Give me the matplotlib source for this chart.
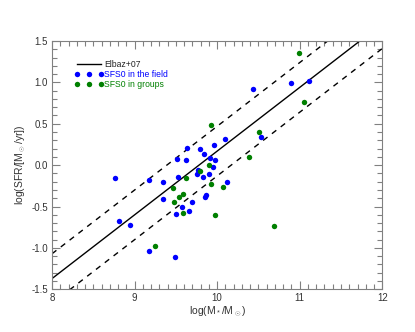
import numpy as np
import matplotlib as mpl
import matplotlib.pyplot as plt
from matplotlib.ticker import MultipleLocator, FormatStrFormatter

mpl.rcParams["font.family"] = ["Liberation Sans", "DejaVu Sans"]
mpl.rcParams["axes.unicode_minus"] = False
mpl.rcParams["mathtext.fontset"] = "custom"
mpl.rcParams["mathtext.rm"] = "Liberation Sans"

# field galaxies (blue)
field_mass = [8.76, 8.81, 8.94, 9.17, 9.17, 9.34, 9.35, 9.49, 9.50, 9.51,
              9.52, 9.58, 9.62, 9.63, 9.66, 9.70, 9.75, 9.77, 9.79, 9.83,
              9.84, 9.855, 9.87, 9.90, 9.91, 9.955, 9.96, 9.98, 10.10, 10.125,
              10.44, 10.525, 10.90, 11.115]
field_sfr = [-0.15, -0.67, -0.72, -0.18, -1.04, -0.20, -0.41, -1.11, -0.59, 0.08,
             -0.14, -0.51, 0.06, 0.21, -0.55, -0.44, -0.11, -0.06, 0.19, -0.14,
             0.13, -0.39, -0.36, -0.11, 0.09, -0.02, 0.24, 0.06, 0.32, -0.20,
             0.92, 0.34, 0.99, 1.02]

# group galaxies (green)
group_mass = [9.25, 9.47, 9.475, 9.54, 9.59, 9.585, 9.62, 9.79, 9.905, 9.93,
              9.93, 9.97, 10.07, 10.39, 10.51, 10.69, 10.99, 11.05]
group_sfr = [-0.98, -0.28, -0.45, -0.38, -0.35, -0.58, -0.16, -0.07, 0.00, 0.48,
             -0.23, -0.60, -0.26, 0.10, 0.40, -0.73, 1.35, 0.76]

# Elbaz+07 relation: SFR = 8.7 (M/1e11)^0.77, +-0.3 dex
slope = 0.77
norm = np.log10(8.7)
scatter = 0.3

blue = "#0000ff"
green = "#008000"
frame = "#808080"

fig = plt.figure(figsize=(4.15, 3.32), dpi=100)
ax = fig.add_axes([0.1253, 0.1286, 0.7959, 0.7479])

xx = np.linspace(8, 12, 200)
rel = slope * (xx - 11) + norm
ax.plot(xx, rel, color="black", lw=1.0, label="Elbaz+07")
ax.plot(xx, rel + scatter, color="black", lw=1.0, ls=(0, (4, 4)))
ax.plot(xx, rel - scatter, color="black", lw=1.0, ls=(0, (4, 4)))

ax.plot(field_mass, field_sfr, "o", color=blue, ms=3.9, mew=0,
        label="SFS0 in the field")
ax.plot(group_mass, group_sfr, "o", color=green, ms=3.9, mew=0,
        label="SFS0 in groups")

ax.set_xlim(8, 12)
ax.set_ylim(-1.5, 1.5)
ax.xaxis.set_major_locator(MultipleLocator(1))
ax.xaxis.set_minor_locator(MultipleLocator(0.1))
ax.yaxis.set_major_locator(MultipleLocator(0.5))
ax.yaxis.set_minor_locator(MultipleLocator(0.1))
ax.yaxis.set_major_formatter(FormatStrFormatter("%.1f"))
ax.tick_params(which="both", direction="in", top=True, right=True,
               color=frame, labelsize=7, labelcolor="#333333", pad=3)
ax.tick_params(which="major", length=6, width=0.8)
ax.tick_params(which="minor", length=3.5, width=0.8)
for s in ax.spines.values():
    s.set_color(frame)
    s.set_linewidth(0.8)

ax.set_xlabel(r"log(M$_*$/M$_\odot$)", fontsize=7.5, color="#333333", labelpad=1)
ax.set_ylabel(r"log(SFR/[M$_\odot$/yr])", fontsize=7.5, color="#333333", labelpad=2)

leg = ax.legend(loc="upper left", bbox_to_anchor=(0.058, 0.937), frameon=False,
                numpoints=3, fontsize=6.2, handlelength=3.4, handletextpad=0.05,
                labelspacing=0.12, borderaxespad=0)
for txt, c in zip(leg.get_texts(), ["#222222", blue, green]):
    txt.set_color(c)

fig.savefig("out.png", dpi=100)
